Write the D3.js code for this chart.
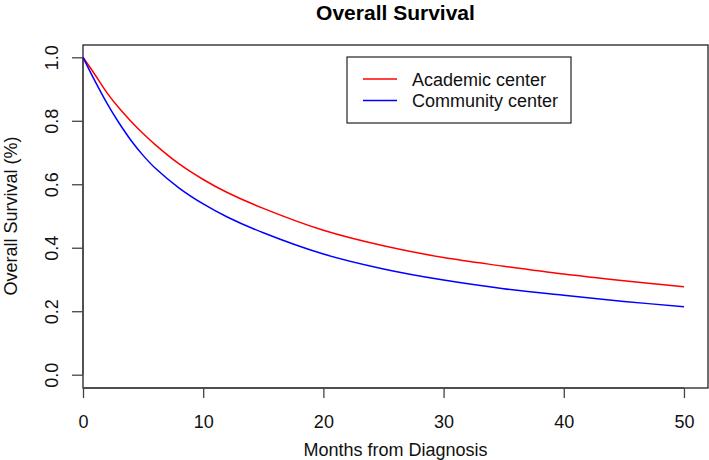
<!DOCTYPE html>
<html><head><meta charset="utf-8">
<script src="https://cdn.jsdelivr.net/npm/d3@7"></script>
<style>body{margin:0;background:#fff}svg{display:block}text{font-family:"Liberation Sans",Arial,sans-serif}</style>
</head><body><svg id="c" width="709" height="460"></svg>
<script>
const months = [0,1,2,3,4,5,6,8,10,12,15,20,25,30,35,40,45,50];
const academic = [1.00,0.945,0.888,0.840,0.798,0.760,0.725,0.664,0.615,0.574,0.524,0.455,0.406,0.369,0.342,0.317,0.296,0.277];
const community = [1.00,0.925,0.855,0.793,0.738,0.691,0.651,0.588,0.538,0.497,0.447,0.380,0.333,0.298,0.271,0.250,0.231,0.214];
const seriesNames = ["Academic center","Community center"];
const seriesColors = ["#ff0000","#0000ff"];
const xTicks = [0,10,20,30,40,50];
const yTicks = [0.0,0.2,0.4,0.6,0.8,1.0];

const svg = d3.select("#c");
const box = {l:83, r:708, t:45, b:388};
const x = d3.scaleLinear().domain([0,52]).range([83,708]);
const y = d3.scaleLinear().domain([0,1]).range([374.7,57.3]);

// box
svg.append("rect").attr("x",box.l).attr("y",box.t).attr("width",box.r-box.l).attr("height",box.b-box.t)
  .attr("fill","none").attr("stroke","#222").attr("stroke-width",1.3);

// x axis
const xa = svg.append("g").attr("transform",`translate(0,${box.b})`)
  .call(d3.axisBottom(x).tickValues(xTicks).tickSize(10).tickPadding(17).tickFormat(d3.format("d")));
xa.select(".domain").attr("d",`M${x(0)},0H${x(50)}`).attr("stroke","#444").attr("stroke-width",1.3);
xa.selectAll(".tick line").attr("stroke","#444").attr("stroke-width",1.3);
xa.selectAll("text").attr("font-size",18).attr("fill","#111").attr("font-family","Liberation Sans, Arial, sans-serif");

// y axis
const ya = svg.append("g").attr("transform",`translate(${box.l},0)`)
  .call(d3.axisLeft(y).tickValues(yTicks).tickSize(11).tickFormat(d3.format(".1f")));
ya.select(".domain").attr("d",`M0,${y(0)}V${y(1)}`).attr("stroke","#444").attr("stroke-width",1.3);
ya.selectAll(".tick line").attr("stroke","#444").attr("stroke-width",1.3);
ya.selectAll("text").attr("font-size",18).attr("fill","#111").attr("font-family","Liberation Sans, Arial, sans-serif")
  .attr("x",null).attr("dy",null).attr("text-anchor","middle").attr("transform","translate(-25,0) rotate(-90)");

// lines
const line = d3.line().x(d=>x(d[0])).y(d=>y(d[1])).curve(d3.curveCatmullRom.alpha(0.5));
[academic, community].forEach((vals,i)=>{
  svg.append("path").datum(months.map((m,j)=>[m,vals[j]]))
    .attr("d",line).attr("fill","none").attr("stroke",seriesColors[i]).attr("stroke-width",1.5);
});

// legend
svg.append("rect").attr("x",347).attr("y",57).attr("width",224).attr("height",66)
  .attr("fill","#fff").attr("stroke","#222").attr("stroke-width",1.2);
seriesNames.forEach((n,i)=>{
  const yy = 79 + i*21.5;
  svg.append("line").attr("x1",363).attr("x2",397).attr("y1",yy).attr("y2",yy)
    .attr("stroke",seriesColors[i]).attr("stroke-width",1.5);
  svg.append("text").attr("x",412).attr("y",yy+6.5).attr("font-size",18).attr("fill","#111").text(n);
});

// titles
svg.append("text").attr("x",395.5).attr("y",20).attr("text-anchor","middle")
  .attr("font-size",21).attr("font-weight","bold").attr("fill","#000").text("Overall Survival");
svg.append("text").attr("x",395.5).attr("y",456).attr("text-anchor","middle")
  .attr("font-size",18).attr("fill","#111").text("Months from Diagnosis");
svg.append("text").attr("transform","translate(17,216) rotate(-90)").attr("text-anchor","middle")
  .attr("font-size",18).attr("fill","#111").text("Overall Survival (%)");
</script></body></html>
